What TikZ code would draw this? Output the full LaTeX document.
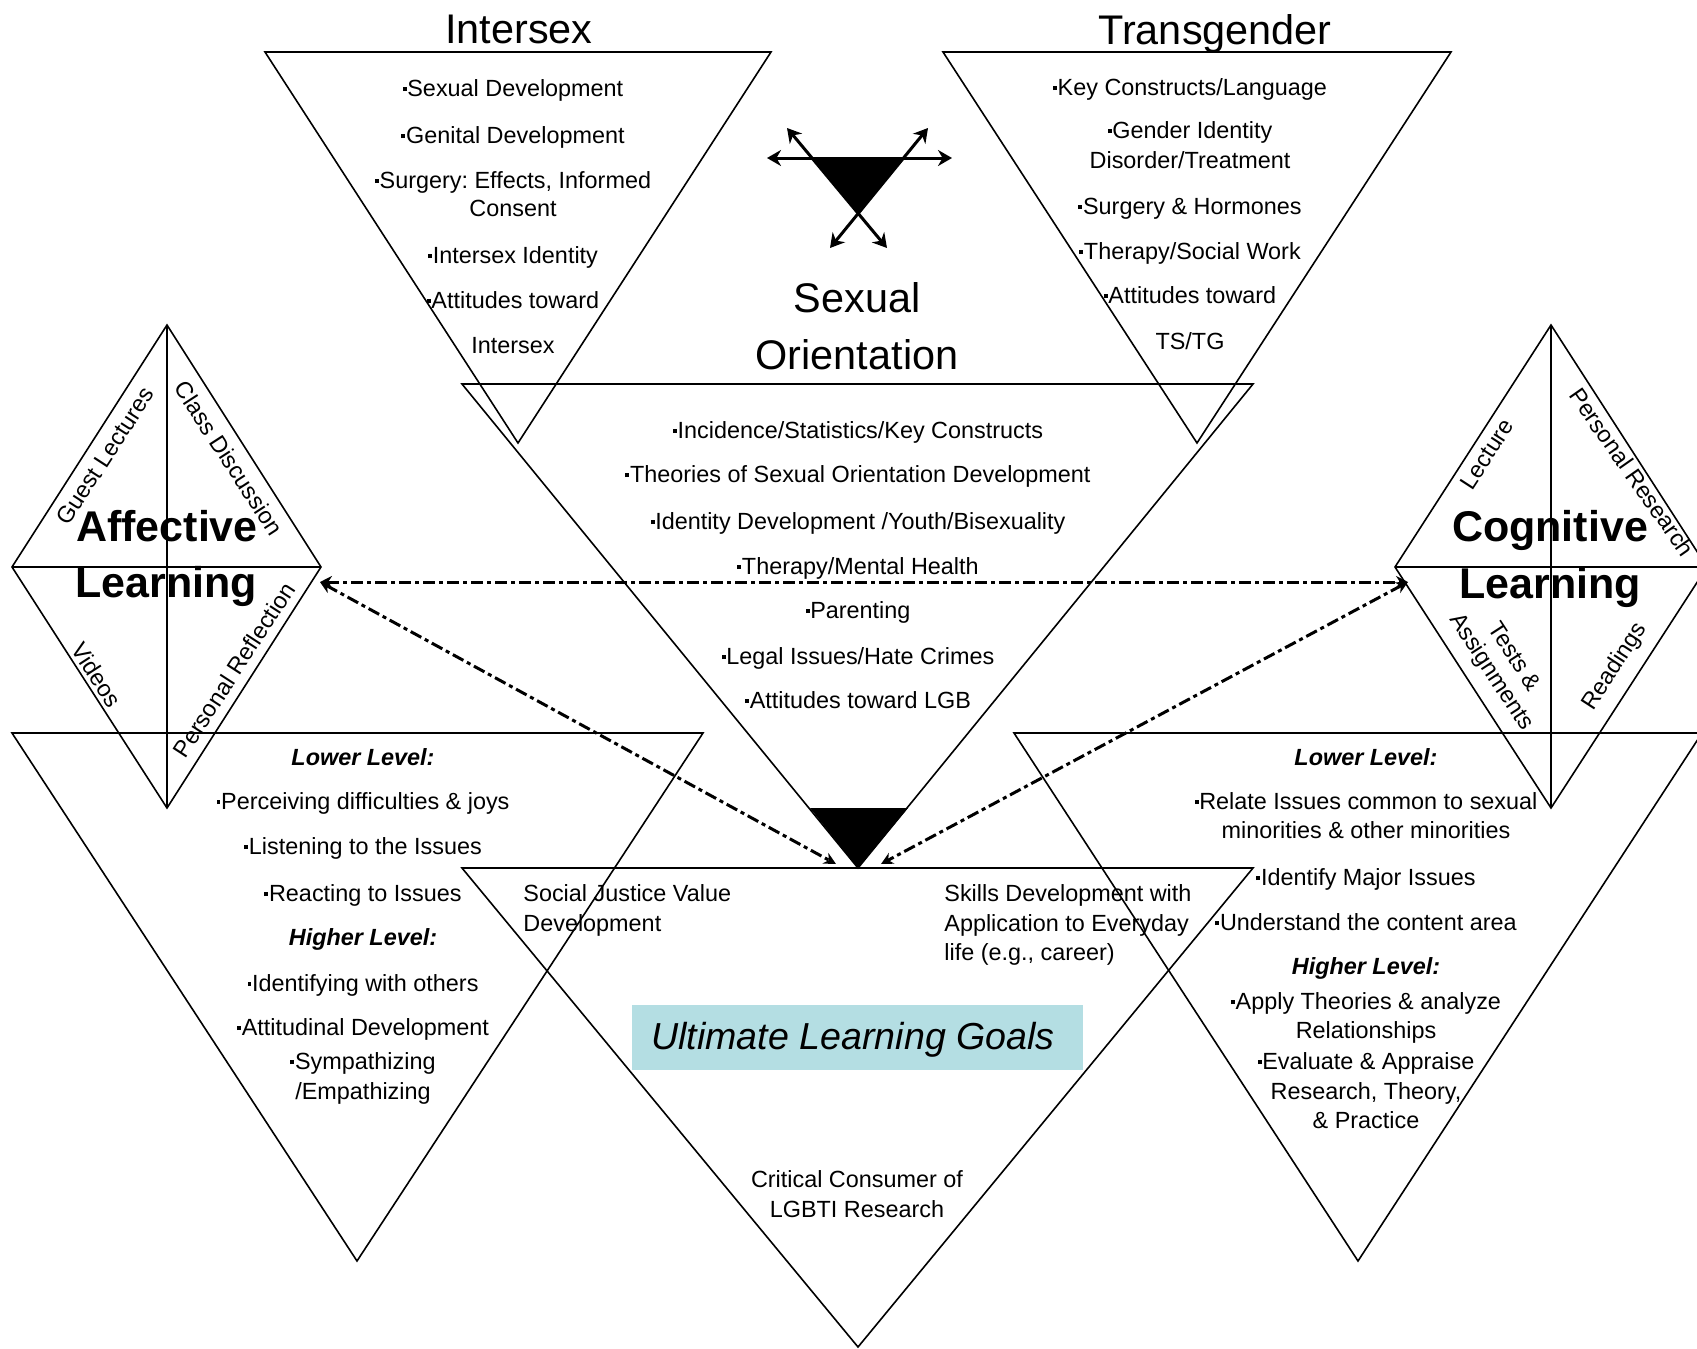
\documentclass[tikz,border=0pt]{standalone}
\usepackage{fontspec}
\setmainfont{Liberation Sans}
\usetikzlibrary{arrows.meta}
\frenchspacing

\definecolor{goalcol}{RGB}{180,222,227}
\newcommand{\itm}{\rule[0.22em]{0.17em}{0.17em}\hspace{0.03em}}

\begin{document}
\begin{tikzpicture}[x=0.5pt, y=-0.5pt,
    tri/.style={draw, line width=0.8pt, line join=miter},
    txt/.style={inner sep=0pt, text height=0.75em, text depth=0.22em, font=\fontsize{11.7}{14}\selectfont},
    lvl/.style={txt, font=\fontsize{11.7}{14}\selectfont\bfseries\itshape},
    sidelbl/.style={inner sep=0pt, align=center, font=\fontsize{11.7}{13.5}\selectfont},
    title/.style={inner sep=0pt, text height=0.72em, text depth=0.2em, font=\fontsize{20.7}{24}\selectfont},
    learn/.style={inner sep=0pt, text height=0.72em, text depth=0.2em, font=\fontsize{21.5}{26}\selectfont\bfseries},
    linkarrow/.style={{Stealth[length=6pt,width=6pt]}-{Stealth[length=6pt,width=6pt]}, line width=1.5pt, dash pattern=on 6pt off 2pt on 2pt off 2pt},
    symarrow/.style={{Stealth[length=7pt,width=8pt]}-{Stealth[length=7pt,width=8pt]}, line width=1.5pt}
  ]

  \useasboundingbox (0,0) rectangle (1697,1349);
  \clip (0,0) rectangle (1697,1349);

  \coordinate (affR) at (320,582);
  \coordinate (cogL) at (1408,582);
  \coordinate (goalL) at (836,864);
  \coordinate (goalR) at (881,864);

  % Triangles
  \draw[tri] (265,52) -- (771,52) -- (518,443) -- cycle;
  \draw[tri] (943,52) -- (1451,52) -- (1197,443) -- cycle;
  \draw[tri] (462,384) -- (1253,384) -- (858,868) -- cycle;
  \draw[tri] (462,868) -- (1253,868) -- (858,1347) -- cycle;
  \draw[tri] (12,733) -- (703,733) -- (357,1261) -- cycle;
  \draw[tri] (1014,733) -- (1702,733) -- (1358,1261) -- cycle;

  % Diamonds
  \draw[tri] (167,325) -- (321,567) -- (167,808) -- (12,567) -- cycle;
  \draw[tri] (167,325) -- (167,808) (12,567) -- (321,567);
  \draw[tri] (1551,325) -- (1707,567) -- (1551,808) -- (1395,567) -- cycle;
  \draw[tri] (1551,325) -- (1551,808) (1395,567) -- (1707,567);

  % Symbols
  \fill (812,158) -- (905,158) -- (857,213) -- cycle;
  \draw[symarrow] (767,158) -- (952,158);
  \draw[symarrow] (787,128) -- (887,248);
  \draw[symarrow] (928,128) -- (830,248);
  \fill (810,808) -- (908,808) -- (858,868) -- cycle;

  \fill[goalcol] (632,1005) rectangle (1083,1070);
  \node[inner sep=0pt, font=\fontsize{18.8}{22}\selectfont\itshape] (goals) at (853,1040) {Ultimate Learning Goals};

  % Titles
  \node[title] (intersex) at (519,38) {Intersex};
  \node[title] (transgender) at (1215,39) {Transgender};
  \node[title] (sexual) at (857,307) {Sexual};
  \node[title] (orient) at (857,364) {Orientation};

  % Intersex
  \node[txt] (ix1) at (513,91) {\itm Sexual Development};
  \node[txt] (ix2) at (513,138) {\itm Genital Development};
  \node[txt] (ix3) at (513,183) {\itm Surgery: Effects, Informed};
  \node[txt] (ix4) at (513,211) {Consent};
  \node[txt] (ix5) at (513,258) {\itm Intersex Identity};
  \node[txt] (ix6) at (513,303) {\itm Attitudes toward};
  \node[txt] (ix7) at (513,348) {Intersex};

  % Transgender
  \node[txt] (tg1) at (1190,90) {\itm Key Constructs/Language};
  \node[txt] (tg2) at (1190,133) {\itm Gender Identity};
  \node[txt] (tg3) at (1190,163) {Disorder/Treatment};
  \node[txt] (tg4) at (1190,209) {\itm Surgery \& Hormones};
  \node[txt] (tg5) at (1190,254) {\itm Therapy/Social Work};
  \node[txt] (tg6) at (1190,298) {\itm Attitudes toward};
  \node[txt] (tg7) at (1190,344) {TS/TG};

  % Sexual orientation
  \node[txt] (so1) at (858,433) {\itm Incidence/Statistics/Key Constructs};
  \node[txt] (so2) at (858,477) {\itm Theories of Sexual Orientation Development};
  \node[txt] (so3) at (858,524) {\itm Identity Development /Youth/Bisexuality};
  \node[txt] (so4) at (858,569) {\itm Therapy/Mental Health};
  \node[txt] (so5) at (858,613) {\itm Parenting};
  \node[txt] (so6) at (858,659) {\itm Legal Issues/Hate Crimes};
  \node[txt] (so7) at (858,703) {\itm Attitudes toward LGB};

  % Affective learning
  \node[learn] (aff) at (167,536) {Affective};
  \node[learn] (affl) at (166,592) {Learning};
  \node[sidelbl, rotate=57] (guest) at (105,456) {Guest Lectures};
  \node[sidelbl, rotate=-57] (classd) at (229,458) {Class Discussion};
  \node[sidelbl, rotate=-57] (videos) at (97,675) {Videos};
  \node[sidelbl, rotate=57] (reflect) at (234,670) {Personal Reflection};

  \node[lvl] (al1) at (363,760) {Lower Level:};
  \node[txt] (al2) at (363,804) {\itm Perceiving difficulties \& joys};
  \node[txt] (al3) at (363,849) {\itm Listening to the Issues};
  \node[txt] (al4) at (363,896) {\itm Reacting to Issues};
  \node[lvl] (al5) at (363,940) {Higher Level:};
  \node[txt] (al6) at (363,986) {\itm Identifying with others};
  \node[txt] (al7) at (363,1030) {\itm Attitudinal Development};
  \node[txt] (al8) at (363,1064) {\itm Sympathizing};
  \node[txt] (al9) at (363,1094) {/Empathizing};

  % Cognitive learning
  \node[learn] (cog) at (1550,536) {Cognitive};
  \node[learn] (cogl) at (1550,593) {Learning};
  \node[sidelbl, rotate=57] (lecture) at (1487,454) {Lecture};
  \node[sidelbl, rotate=-55] (research) at (1632,472) {Personal Research};
  \node[sidelbl, rotate=-57] (tests) at (1502,665) {Tests \&\\Assignments};
  \node[sidelbl, rotate=57] (readings) at (1615,667) {Readings};

  \node[lvl] (cl1) at (1366,760) {Lower Level:};
  \node[txt] (cl2) at (1366,804) {\itm Relate Issues common to sexual};
  \node[txt] (cl3) at (1366,833) {minorities \& other minorities};
  \node[txt] (cl4) at (1366,880) {\itm Identify Major Issues};
  \node[txt] (cl5) at (1366,925) {\itm Understand the content area};
  \node[lvl] (cl6) at (1366,969) {Higher Level:};
  \node[txt] (cl7) at (1366,1004) {\itm Apply Theories \& analyze};
  \node[txt] (cl8) at (1366,1033) {Relationships};
  \node[txt] (cl9) at (1366,1064) {\itm Evaluate \& Appraise};
  \node[txt] (cl10) at (1366,1094) {Research, Theory,};
  \node[txt] (cl11) at (1366,1123) {\& Practice};

  % Ultimate goals
  \node[txt, anchor=west] (uj1) at (523,896) {Social Justice Value};
  \node[txt, anchor=west] (uj2) at (523,926) {Development};
  \node[txt, anchor=west] (us1) at (944,896) {Skills Development with};
  \node[txt, anchor=west] (us2) at (944,926) {Application to Everyday};
  \node[txt, anchor=west] (us3) at (944,955) {life (e.g., career)};
  \node[txt] (uc1) at (857,1182) {Critical Consumer of};
  \node[txt] (uc2) at (857,1212) {LGBTI Research};

  % Links
  \draw[linkarrow] (affR) -- (cogL);
  \draw[linkarrow] (affR) -- (goalL);
  \draw[linkarrow] (cogL) -- (goalR);

\end{tikzpicture}
\end{document}
